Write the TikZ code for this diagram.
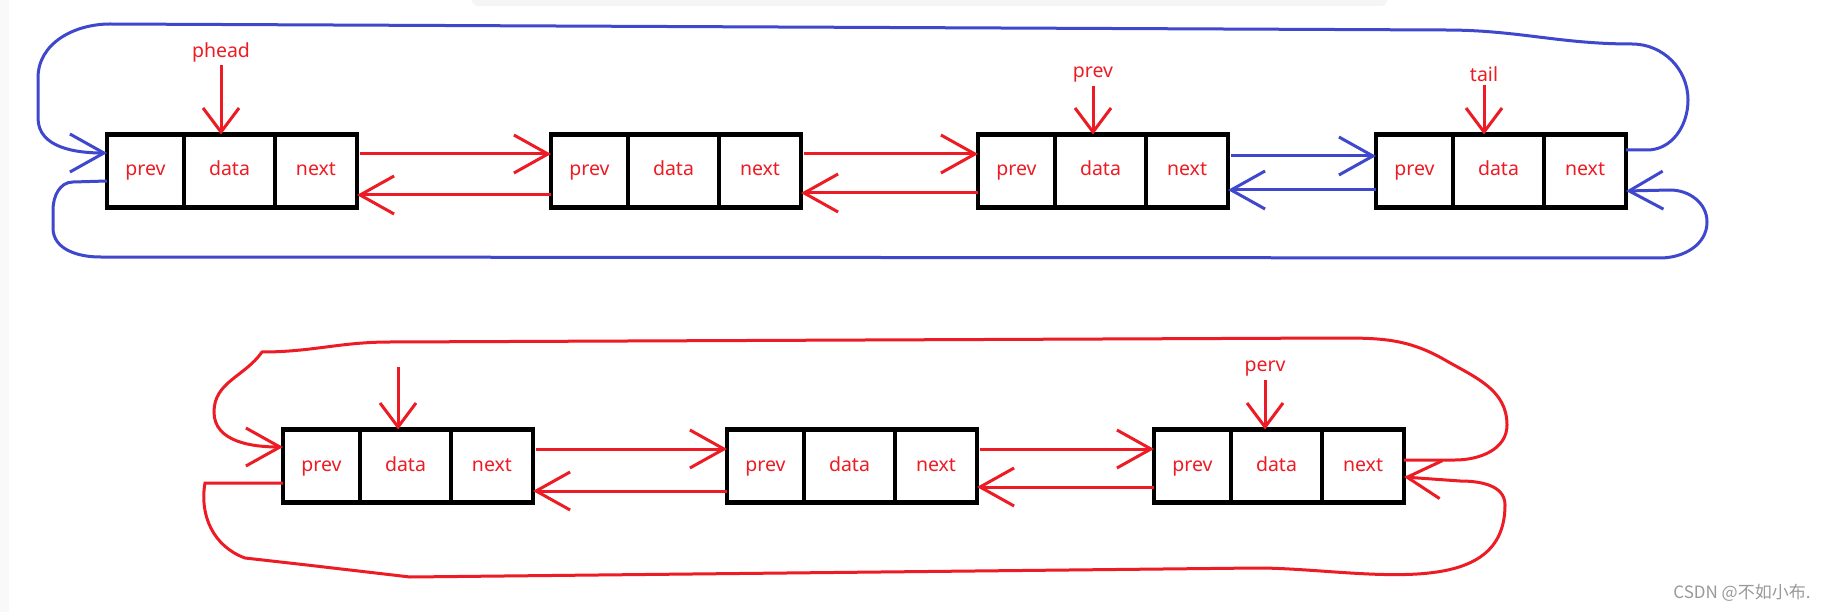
\documentclass[tikz,border=0pt]{standalone}
\usepackage{fontspec}
\setmainfont{Noto Sans}
\newfontfamily\cjk{Noto Sans CJK SC}
\usetikzlibrary{positioning,arrows.meta}
\definecolor{pred}{HTML}{ED1C24}
\definecolor{pblue}{HTML}{3F48CC}
\begin{document}
\begin{tikzpicture}[x=1pt,y=-1pt]
                \tikzstyle{every node}=[font=\fontsize{19.5}{23}\selectfont, text=pred]
                \tikzstyle{cell}=[draw=black, line width=4.5pt, minimum height=73pt, inner sep=0pt, outer sep=0pt, text height=15pt, text depth=5pt]
                \tikzstyle{pcell}=[cell, minimum width=77pt]
                \tikzstyle{dcell}=[cell, minimum width=91pt]
                \tikzstyle{ncell}=[cell, minimum width=82pt]
                \tikzstyle{red link}=[pred, line width=3pt, -{Straight Barb[length=34pt,width=38pt]}]
                \tikzstyle{blue link}=[pblue, line width=3pt, -{Straight Barb[length=34pt,width=38pt]}]
                \tikzstyle{pointer}=[pred, line width=3pt, -{Straight Barb[length=24pt,width=36pt]}]
                \path[use as bounding box, fill=white] (0,0) rectangle (1828,612);
                \fill[gray!5] (0,0) rectangle (9,612);
                \fill[gray!8, rounded corners=6pt] (472,-12) rectangle (1387,6);

                \node[pcell, anchor=west] (prev1) at (107,171) {prev\hspace{6pt}};
                \node[dcell, right=0pt of prev1] (data1) {data};
                \node[ncell, right=0pt of data1] (next1) {next\hspace{6pt}};
                \node[pcell, anchor=west] (prev2) at (551,171) {prev\hspace{6pt}};
                \node[dcell, right=0pt of prev2] (data2) {data};
                \node[ncell, right=0pt of data2] (next2) {next\hspace{6pt}};
                \node[pcell, anchor=west] (prev3) at (978,171) {prev\hspace{6pt}};
                \node[dcell, right=0pt of prev3] (data3) {data};
                \node[ncell, right=0pt of data3] (next3) {next\hspace{6pt}};
                \node[pcell, anchor=west] (prev4) at (1376,171) {prev\hspace{6pt}};
                \node[dcell, right=0pt of prev4] (data4) {data};
                \node[ncell, right=0pt of data4] (next4) {next\hspace{6pt}};

                \node[pcell, anchor=west] (prev5) at (283,466) {prev\hspace{6pt}};
                \node[dcell, right=0pt of prev5] (data5) {data};
                \node[ncell, right=0pt of data5] (next5) {next\hspace{6pt}};
                \node[pcell, anchor=west] (prev6) at (727,466) {prev\hspace{6pt}};
                \node[dcell, right=0pt of prev6] (data6) {data};
                \node[ncell, right=0pt of data6] (next6) {next\hspace{6pt}};
                \node[pcell, anchor=west] (prev7) at (1154,466) {prev\hspace{6pt}};
                \node[dcell, right=0pt of prev7] (data7) {data};
                \node[ncell, right=0pt of data7] (next7) {next\hspace{6pt}};

                \node (phead) at (221,52) {phead};
                \node (prevptr) at (1093,75) {prev};
                \node (tail) at (1484,74) {tail};
                \node (perv) at (1265,369) {perv};
                \coordinate (top5) at (398,367);
                \node[text=gray!80, font=\cjk\fontsize{17}{20}\selectfont, anchor=east] (mark) at (1814,593) {CSDN @不如小布.};

                \draw[pointer] (phead.south) -- (phead.south |- data1.north);
                \draw[pointer] (prevptr.south) -- (prevptr.south |- data3.north);
                \draw[pointer] (tail.south) -- (tail.south |- data4.north);
                \draw[pointer] (top5) -- (top5 |- data5.north);
                \draw[pointer] (perv.south) -- (perv.south |- data7.north);

                \draw[red link, shorten <=3pt] ([yshift=17pt]next1.east) -- ([yshift=17pt]prev2.west);
                \draw[red link] ([yshift=-24pt]prev2.west) -- ([yshift=-24pt]next1.east);
                \draw[red link, shorten <=3pt] ([yshift=17pt]next2.east) -- ([yshift=17pt]prev3.west);
                \draw[red link] ([yshift=-22pt]prev3.west) -- ([yshift=-22pt]next2.east);
                \draw[blue link, shorten <=3pt] ([yshift=15pt]next3.east) -- ([yshift=15pt]prev4.west);
                \draw[blue link] ([yshift=-19pt]prev4.west) -- ([yshift=-19pt]next3.east);

                \draw[red link, shorten <=3pt] ([yshift=17pt]next5.east) -- ([yshift=17pt]prev6.west);
                \draw[red link] ([yshift=-25pt]prev6.west) -- ([yshift=-25pt]next5.east);
                \draw[red link, shorten <=3pt] ([yshift=17pt]next6.east) -- ([yshift=17pt]prev7.west);
                \draw[red link] ([yshift=-21pt]prev7.west) -- ([yshift=-21pt]next6.east);

                \draw[blue link] ([yshift=21pt]next4.east) -- (1647,150) to[out=0,in=-90] (1688,100)
                    to[out=90,in=0] (1632,44) to[out=180,in=0] (1445,30) -- (110,24)
                    to[out=180,in=90] (38,78) -- (38,118) to[out=-90,in=180] ([yshift=18pt]prev1.west);
                \draw[blue link] ([yshift=-10pt]prev1.west) -- (73,182) to[out=180,in=90] (53,210)
                    -- (53,228) to[out=-90,in=180] (100,257) -- (1660,258) to[out=0,in=-90] (1707,222)
                    to[out=90,in=0] (1670,190) -- ([yshift=-20pt]next4.east);

                \draw[red link] ([yshift=6pt]next7.east) -- (1455,460) to[out=0,in=-90] (1507,425)
                    to[out=90,in=-30] (1445,360) to[out=150,in=0] (1340,338) -- (390,342)
                    to[out=180,in=0] (262,352) to[out=-125,in=90] (214,412) to[out=-90,in=180] ([yshift=19pt]prev5.west);
                \draw[red link] ([yshift=-17pt]prev5.west) -- (205,483) to[out=-100,in=160] (245,558)
                    -- (307,565) -- (410,577) -- (1257,568) to[out=0,in=-90] (1505,505)
                    to[out=90,in=0] (1460,481) -- ([yshift=-11pt]next7.east);
\end{tikzpicture}
\end{document}
